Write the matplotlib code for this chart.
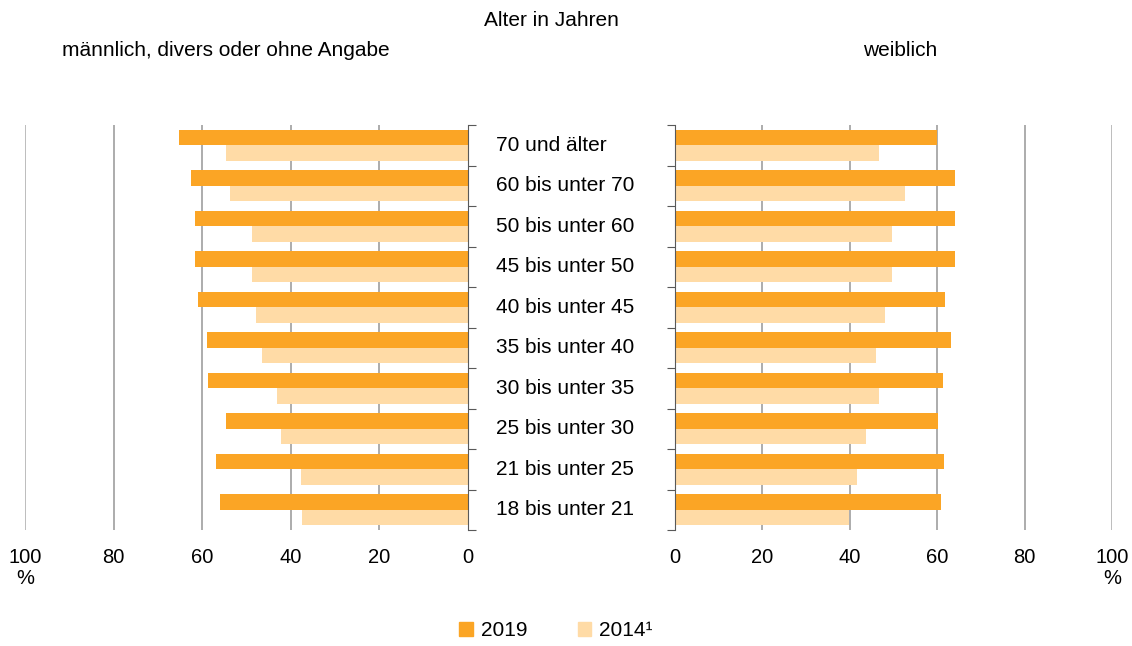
import numpy as np
import matplotlib
matplotlib.use('Agg')
import matplotlib.pyplot as plt
from matplotlib.patches import Patch
from matplotlib.transforms import blended_transform_factory

plt.rcParams['font.family'] = ['Liberation Sans', 'DejaVu Sans']

# Age groups, bottom to top.
age_groups = ['18 bis unter 21', '21 bis unter 25', '25 bis unter 30', '30 bis unter 35',
              '35 bis unter 40', '40 bis unter 45', '45 bis unter 50', '50 bis unter 60',
              '60 bis unter 70', '70 und älter']
male_2019 = [56.0, 56.9, 54.6, 58.7, 58.9, 60.9, 61.6, 61.6, 62.5, 65.2]
male_2014 = [37.5, 37.7, 42.2, 43.1, 46.5, 47.9, 48.8, 48.8, 53.7, 54.6]
female_2019 = [60.9, 61.6, 60.2, 61.3, 63.2, 61.8, 64.1, 64.1, 64.1, 60.0]
female_2014 = [39.8, 41.6, 43.7, 46.7, 46.0, 48.1, 49.7, 49.7, 52.6, 46.7]
x_ticks = [0, 20, 40, 60, 80, 100]

c_2019 = '#fba525'
c_2014 = '#ffdba6'
grid_c = '#a6a6a6'
fs = 15

fig = plt.figure(figsize=(11.32, 6.46), dpi=100)
ax_l = fig.add_axes([25 / 1132, 1 - 530 / 646, 443 / 1132, 405 / 646])
ax_r = fig.add_axes([675 / 1132, 1 - 530 / 646, 437 / 1132, 405 / 646])

y = np.arange(len(age_groups))
h = 0.38


def style(ax, side):
    for s in ax.spines.values():
        s.set_visible(False)
    ax.spines[side].set_visible(True)
    ax.spines[side].set_color('#595959')
    ax.set_xlim(0, 100)
    ax.set_ylim(-0.5, len(age_groups) - 0.5)
    ax.set_xticks(x_ticks)
    ax.tick_params(axis='x', length=0, labelsize=14.5, pad=13)
    ax.set_yticks(np.arange(len(age_groups) + 1) - 0.5)
    ax.set_yticklabels([])
    ax.yaxis.set_ticks_position(side)
    ax.tick_params(axis='y', length=6, color='#595959', direction='out')
    for t in x_ticks[1:]:
        ax.axvline(t, color=grid_c if t < 100 else '#b8b8b8', lw=1.3, zorder=0)


ax_l.barh(y + h / 2, male_2019, height=h, color=c_2019, zorder=2)
ax_l.barh(y - h / 2, male_2014, height=h, color=c_2014, zorder=2)
style(ax_l, 'right')
ax_l.invert_xaxis()

ax_r.barh(y + h / 2, female_2019, height=h, color=c_2019, zorder=2)
ax_r.barh(y - h / 2, female_2014, height=h, color=c_2014, zorder=2)
style(ax_r, 'left')

# Category labels between the two panels.
tr = blended_transform_factory(fig.transFigure, ax_l.transData)
for yi, lab in zip(y, age_groups):
    fig.text(496 / 1132, yi, lab, transform=tr, ha='left', va='center', fontsize=fs)

# Percent signs under the 100 ticks.
fig.text(25 / 1132, 1 - 578 / 646, '%', ha='center', va='center', fontsize=14.5)
fig.text(1112 / 1132, 1 - 578 / 646, '%', ha='center', va='center', fontsize=14.5)

# Headers.
fig.text(551 / 1132, 1 - 20 / 646, 'Alter in Jahren', ha='center', va='center', fontsize=fs)
fig.text(226 / 1132, 1 - 50 / 646, 'männlich, divers oder ohne Angabe', ha='center', va='center', fontsize=fs)
fig.text(900 / 1132, 1 - 50 / 646, 'weiblich', ha='center', va='center', fontsize=fs)

handles = [Patch(color=c_2019, label='2019'), Patch(color=c_2014, label='2014¹')]
fig.legend(handles=handles, loc='center', bbox_to_anchor=(556 / 1132, 1 - 631 / 646), ncol=2,
           frameon=False, fontsize=fs, handlelength=0.65, handleheight=0.65,
           handletextpad=0.4, columnspacing=2.4)

fig.savefig('out.png', dpi=100)
